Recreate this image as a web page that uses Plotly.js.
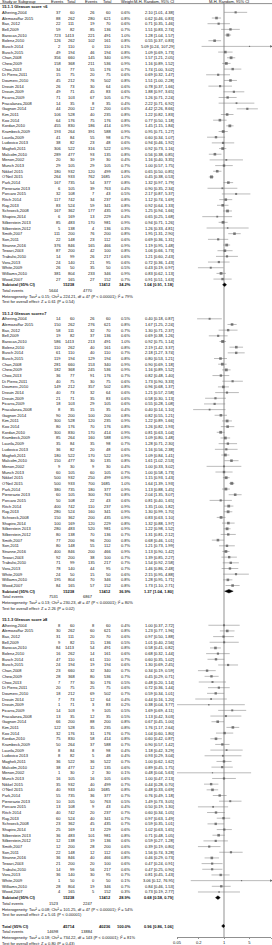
<!DOCTYPE html>
<html><head><meta charset="utf-8">
<script src="https://cdn.plot.ly/plotly-3.0.1.min.js"></script>
<style>html,body{margin:0;padding:0;background:#fff;overflow:hidden}#chart{width:272px;height:945px}</style>
</head><body><div id="chart"></div>
<script>
// ---------------- DATA ----------------
const studyNames = ["Alhering,2004","Alemozaffar 2015","Bax, 2012","Bell,2009","Barocas,2010","Bolenz,2010","Busch 2014","Busch,2015","Chan,2008","Chew,2009","Choo,2013","Di Pierro,2011","Doumerc,2010","Drouin 2014","Drouin,2009","Ficarra,2009","Fracalanza,2008","Gagnon 2014","Kim,2011","Koo 2014","Kordan,2010","Krambeck,2009","Laurila,2009","Ludovico 2013","Magheli,2011","Malcolm,2010","Menon,2002","Munch 2013","Nikkel 2015","O'Neil 2015","Park,2014","Pierorazio 2013","Porcaro 2015","Ritch 2014","Ray,2013","Schroeck,2008","Shapiro,2014","Silberstein 2013","Silberstein,2012","Smith,2007","Son,2011","Stranne,2016","Tewari,2003","Trabulsi,2010","Vora,2013","White,2009","Williams,2010","Wood,2007"];
const expTotal = [60,262,111,82,1413,262,110,194,660,368,77,75,212,73,71,103,35,200,528,176,830,264,84,82,522,477,30,105,932,933,735,105,108,742,524,362,169,483,138,200,148,846,200,99,140,50,804,165];
const ctlTotal = [60,621,70,136,491,161,110,194,340,536,176,75,502,64,83,105,35,200,235,176,414,588,98,48,522,135,30,105,499,1685,377,763,43,237,341,435,229,981,136,200,112,466,100,217,95,50,346,152];

const subgroupTitles = ["15.1.1 Gleason score <6","15.1.2 Gleason score=7","15.1.3 Gleason score \u22658"];

// Subgroup 1: Gleason <6
const g1ExpEv = [37,88,22,59,723,126,2,49,356,158,34,15,45,26,49,71,14,44,106,64,455,193,41,38,306,289,20,29,180,264,167,6,32,117,83,167,6,85,5,111,22,376,87,14,24,26,381,27];
const g1CtlEv = [26,280,19,85,221,102,0,46,145,211,55,20,76,30,45,67,8,12,40,75,186,391,55,23,316,93,19,29,120,762,54,39,7,34,59,177,13,170,4,76,23,165,42,26,21,35,233,27];
const g1Weight = [0.6,0.8,0.6,0.7,1.0,0.8,0.1,0.8,0.9,0.9,0.7,0.6,0.8,0.6,0.6,0.7,0.4,0.6,0.8,0.8,0.9,0.9,0.7,0.6,0.9,0.8,0.4,0.7,0.8,1.0,0.8,0.4,0.5,0.8,0.8,0.9,0.4,0.9,0.3,0.8,0.6,0.9,0.8,0.6,0.6,0.5,0.9,0.7];
const g1OR = [2.10,0.62,0.71,1.51,1.28,0.55,5.09,1.09,1.57,1.16,1.74,0.69,1.51,0.78,1.88,1.26,2.22,4.42,1.22,0.77,1.45,0.95,0.60,0.94,0.92,0.56,1.16,1.00,0.65,0.45,1.32,0.90,2.17,1.12,0.92,1.25,0.65,0.94,1.26,1.95,0.69,1.19,1.06,1.21,0.72,0.43,0.83,0.91];
const g1Lo = [1.01,0.46,0.35,0.83,1.04,0.37,0.24,0.69,1.21,0.89,1.00,0.32,1.00,0.37,0.97,0.71,0.71,2.26,0.82,0.50,1.15,0.71,0.34,0.46,0.73,0.38,0.40,0.57,0.50,0.38,0.97,0.35,0.87,0.74,0.64,0.94,0.25,0.71,0.33,1.31,0.36,0.95,0.66,0.60,0.36,0.19,0.62,0.51];
const g1Hi = [4.38,0.83,1.46,2.74,1.57,0.83,107.29,1.73,2.05,1.52,3.02,1.47,2.28,1.66,3.65,2.24,6.92,8.66,1.83,1.18,1.84,1.27,1.07,1.92,1.16,0.85,3.35,1.75,0.85,0.53,1.79,2.34,5.37,1.69,1.33,1.66,1.68,1.26,4.81,2.90,1.31,1.48,1.73,2.43,1.43,0.97,1.13,1.63];
const g1Summary = [1.04,0.91,1.18];
const g1SumWeight = 34.2;
const g1TotEvents = [5644,4770];
const g1Het = "Heterogeneity: Tau\u00b2 = 0.15; Chi\u00b2 = 224.21, df = 47 (P < 0.00001); I\u00b2 = 79%";
const g1Test = "Test for overall effect: Z = 0.61 (P = 0.54)";

// Subgroup 2: Gleason = 7
const g2ExpEv = [14,150,58,19,586,110,61,119,281,182,36,40,149,40,21,18,8,90,300,80,300,85,35,36,180,150,9,60,500,500,380,60,50,400,280,150,100,280,80,77,80,400,92,71,78,24,195,84];
const g2CtlEv = [26,276,32,37,213,40,40,129,153,245,91,30,357,32,35,29,15,100,120,70,170,160,35,20,170,30,9,60,250,700,180,300,22,110,160,200,120,520,70,96,55,200,38,135,44,15,70,57];
const g2Weight = [0.5,0.8,0.7,0.6,1.0,0.8,0.7,0.8,0.9,0.9,0.7,0.6,0.8,0.6,0.6,0.6,0.4,0.8,0.9,0.8,0.9,0.9,0.7,0.6,0.9,0.8,0.4,0.7,0.9,1.0,0.9,0.8,0.6,0.9,0.9,0.9,0.8,0.9,0.7,0.8,0.7,0.9,0.7,0.7,0.7,0.6,0.8,0.8];
const g2OR = [0.40,1.67,1.30,0.69,0.92,2.19,2.18,0.80,0.90,1.16,0.82,1.73,0.96,1.21,0.58,0.55,0.40,0.82,1.22,1.26,0.81,1.09,1.28,1.16,1.09,1.61,1.00,1.00,1.15,1.64,1.13,2.04,0.81,1.35,1.30,0.83,1.32,1.22,1.31,0.68,1.21,1.13,1.39,1.54,1.46,2.15,1.28,1.73];
const g2Lo = [0.18,1.25,0.71,0.38,0.75,1.42,1.27,0.53,0.69,0.89,0.48,0.90,0.68,0.57,0.30,0.28,0.14,0.55,0.89,0.82,0.63,0.80,0.71,0.56,0.84,1.02,0.33,0.58,0.93,1.39,0.88,1.35,0.40,1.00,0.99,0.63,0.88,0.98,0.81,0.46,0.73,0.90,0.85,0.92,0.86,0.95,0.95,1.10];
const g2Hi = [0.87,2.24,2.37,1.26,1.14,3.37,3.74,1.21,1.18,1.52,1.40,3.33,1.37,2.58,1.13,1.08,1.10,1.21,1.66,1.93,1.04,1.48,2.30,2.38,1.41,2.53,3.02,1.73,1.43,1.93,1.45,3.07,1.65,1.82,1.70,1.10,1.97,1.52,2.12,1.01,1.99,1.42,2.27,2.58,2.48,4.88,1.71,2.71];
const g2Summary = [1.37,1.04,1.80];
const g2SumWeight = 36.9;
const g2TotEvents = [7531,6867];
const g2Het = "Heterogeneity: Tau\u00b2 = 0.13; Chi\u00b2 = 230.23, df = 47 (P < 0.00001); I\u00b2 = 80%";
const g2Test = "Test for overall effect: Z = 2.26 (P = 0.02)";

// Subgroup 3: Gleason >= 8
const g3ExpEv = [8,30,31,9,84,16,47,24,23,28,7,20,18,7,1,14,13,66,122,32,75,50,8,8,36,38,1,16,35,40,55,10,13,40,60,23,25,36,12,12,22,36,21,14,36,1,28,4];
const g3CtlEv = [8,60,20,15,54,14,61,19,32,80,30,25,69,12,3,9,12,88,35,31,58,37,8,5,36,12,2,16,40,140,36,50,9,20,40,45,13,101,19,28,12,40,20,56,30,0,19,5];
const g3Weight = [0.4,0.8,0.6,0.5,0.8,0.6,0.7,0.6,0.7,0.7,0.5,0.6,0.7,0.4,0.2,0.5,0.5,0.8,0.8,0.7,0.8,0.7,0.4,0.4,0.7,0.6,0.1,0.6,0.7,0.8,0.7,0.5,0.4,0.7,0.7,0.7,0.6,0.8,0.6,0.6,0.6,0.8,0.6,0.6,0.7,0.1,0.7,0.3];
const g3OR = [1.00,1.23,0.97,1.01,0.58,0.68,0.60,1.30,0.34,0.45,0.48,0.72,0.59,0.44,0.38,1.69,1.13,0.67,1.76,1.04,0.60,0.90,1.18,0.93,1.00,0.89,0.48,1.00,0.44,0.48,0.76,1.49,0.50,0.60,0.97,0.59,1.02,0.71,0.59,0.39,1.56,0.46,0.47,0.47,0.81,3.06,0.84,0.73];
const g3Lo = [0.37,0.77,0.50,0.40,0.41,0.32,0.35,0.69,0.19,0.29,0.20,0.36,0.34,0.16,0.04,0.69,0.42,0.45,1.17,0.60,0.42,0.57,0.42,0.29,0.62,0.45,0.04,0.47,0.28,0.33,0.49,0.73,0.19,0.34,0.63,0.35,0.63,0.48,0.27,0.19,0.74,0.29,0.24,0.25,0.45,0.12,0.46,0.19];
const g3Hi = [2.72,1.96,1.88,2.56,0.82,1.44,1.02,2.45,0.59,0.71,1.14,1.44,1.01,1.20,3.77,4.11,3.03,1.00,2.64,1.80,0.87,1.42,3.29,3.04,1.62,1.75,5.63,2.13,0.70,0.69,1.18,3.05,1.30,1.05,1.49,1.01,1.65,1.05,1.28,0.80,3.28,0.73,0.91,0.90,1.43,76.95,1.53,2.77];
const g3Summary = [0.68,0.58,0.79];
const g3SumWeight = 28.9;
const g3TotEvents = [1523,2247];
const g3Het = "Heterogeneity: Tau\u00b2 = 0.08; Chi\u00b2 = 101.25, df = 47 (P < 0.00001); I\u00b2 = 54%";
const g3Test = "Test for overall effect: Z = 5.01 (P < 0.00001)";

// Overall
const overallSummary = [0.96,0.86,1.06];
const overallTotals = [45714,40236];
const overallTotEvents = [14698,13884];
const overallHet = "Heterogeneity: Tau\u00b2 = 0.18; Chi\u00b2 = 734.22, df = 143 (P < 0.00001); I\u00b2 = 81%";
const overallTest = "Test for overall effect: Z = 0.80 (P = 0.43)";
const subTotals = [15238,13412];

const headerCols = ["Study or Subgroup","Events","Total","Events","Total","Weight","M-H, Random, 95% CI","M-H, Random, 95% CI"];
const tickVals = [0.05,0.2,1,5,20];
const tickLabels = ["0.05","0.2","1","5","20"];

// ---------------- LAYOUT HELPERS ----------------
const W = 272, H = 945;
const ROW_H = 5.675, ROW0_PX = 1;
const COL = {name:1.2, expEv:61.5, expTot:75.5, ctlEv:96, ctlTot:112.2, weight:132, ci:174.5};
const FS = 4;
const FONT = '"Liberation Sans", Arial, sans-serif';
const AX_PX = 937;
const X_MIN = 0.05, X_MAX = 20;

const groups = [
  {title:subgroupTitles[0], start:1,  ee:g1ExpEv, ce:g1CtlEv, w:g1Weight, or:g1OR, lo:g1Lo, hi:g1Hi, sum:g1Summary, sw:g1SumWeight, te:g1TotEvents, het:g1Het, test:g1Test},
  {title:subgroupTitles[1], start:55, ee:g2ExpEv, ce:g2CtlEv, w:g2Weight, or:g2OR, lo:g2Lo, hi:g2Hi, sum:g2Summary, sw:g2SumWeight, te:g2TotEvents, het:g2Het, test:g2Test},
  {title:subgroupTitles[2], start:109,ee:g3ExpEv, ce:g3CtlEv, w:g3Weight, or:g3OR, lo:g3Lo, hi:g3Hi, sum:g3Summary, sw:g3SumWeight, te:g3TotEvents, het:g3Het, test:g3Test}
];
const totalRow = 163;

const fmt = v => v.toFixed(2);
const ciText = (o,l,h) => fmt(o)+" ["+fmt(l)+", "+fmt(h)+"]";

const anns = [];
function T(text, xPx, row, anchor, bold){
  anns.push({text: bold ? '<b>'+text+'</b>' : text, xref:'paper', x:xPx/W, yref:'y', y:row,
    xanchor:anchor, yanchor:'middle', showarrow:false, borderpad:0,
    font:{size:FS, family:FONT, color:'#111'}});
}

const hr = 0.08;
T(headerCols[0], COL.name, hr, 'left');
T(headerCols[1], 56.5, hr, 'center');
T(headerCols[2], 71.5, hr, 'center');
T(headerCols[3], 91, hr, 'center');
T(headerCols[4], 107.5, hr, 'center');
T(headerCols[5], 127, hr, 'center');
T(headerCols[6], 133, hr, 'left');
T(headerCols[7], 229, hr, 'center');

const ciX=[], ciY=[], sqX=[], sqY=[], sqS=[], arX=[], arY=[];
const diamonds = [];

groups.forEach(g => {
  T(g.title, COL.name, g.start, 'left', true);
  studyNames.forEach((nm,i) => {
    const r = g.start + 1 + i;
    T(nm, COL.name, r, 'left');
    T(String(g.ee[i]), COL.expEv, r, 'right');
    T(String(expTotal[i]), COL.expTot, r, 'right');
    T(String(g.ce[i]), COL.ctlEv, r, 'right');
    T(String(ctlTotal[i]), COL.ctlTot, r, 'right');
    T(g.w[i].toFixed(1)+'%', COL.weight, r, 'right');
    T(ciText(g.or[i], g.lo[i], g.hi[i]), COL.ci, r, 'right');
    ciX.push(g.lo[i], g.hi[i], null); ciY.push(r, r, null);
    sqX.push(g.or[i]); sqY.push(r); sqS.push(1.0 + 2.0*g.w[i]);
    if (g.hi[i] > X_MAX){ arX.push(X_MAX); arY.push(r); }
  });
  const sr = g.start + 49;
  T('Subtotal (95% CI)', COL.name, sr, 'left', true);
  T(String(subTotals[0]), COL.expTot, sr, 'right', true);
  T(String(subTotals[1]), COL.ctlTot, sr, 'right', true);
  T(g.sw.toFixed(1)+'%', COL.weight, sr, 'right', true);
  T(ciText(g.sum[0], g.sum[1], g.sum[2]), COL.ci, sr, 'right', true);
  diamonds.push({row:sr, v:g.sum});
  T('Total events', COL.name, sr+1, 'left');
  T(String(g.te[0]), COL.expEv-2, sr+1, 'right');
  T(String(g.te[1]), COL.ctlEv-2, sr+1, 'right');
  T(g.het, COL.name, sr+2, 'left');
  T(g.test, COL.name, sr+3, 'left');
});

T('Total (95% CI)', COL.name, totalRow, 'left', true);
T(String(overallTotals[0]), COL.expTot, totalRow, 'right', true);
T(String(overallTotals[1]), COL.ctlTot, totalRow, 'right', true);
T('100.0%', COL.weight, totalRow, 'right', true);
T(ciText(overallSummary[0], overallSummary[1], overallSummary[2]), COL.ci, totalRow, 'right', true);
diamonds.push({row:totalRow, v:overallSummary});
T('Total events', COL.name, totalRow+1, 'left');
T(String(overallTotEvents[0]), COL.expEv-2, totalRow+1, 'right');
T(String(overallTotEvents[1]), COL.ctlEv-2, totalRow+1, 'right');
T(overallHet, COL.name, totalRow+2, 'left');
T(overallTest, COL.name, totalRow+3, 'left');

// ---------------- TRACES ----------------
const yTop = -ROW0_PX/ROW_H, yBot = (H - ROW0_PX)/ROW_H;
const axRow = (AX_PX - ROW0_PX)/ROW_H;

const traces = [];
traces.push({x:[1,1], y:[0.45, axRow], mode:'lines', line:{color:'#222', width:0.5}, hoverinfo:'skip'});
traces.push({x:ciX, y:ciY, mode:'lines', line:{color:'#777', width:0.5}, connectgaps:false, hoverinfo:'skip'});
traces.push({x:sqX, y:sqY, mode:'markers', marker:{symbol:'square', size:sqS, color:'#4d4d4d', line:{width:0}}, hoverinfo:'skip'});
traces.push({x:arX, y:arY, mode:'markers', marker:{symbol:'triangle-right', size:2.5, color:'#444'}, hoverinfo:'skip', cliponaxis:false});
diamonds.forEach(d => {
  const [o,l,h] = d.v;
  traces.push({x:[l,o,h,o,l], y:[d.row, d.row-0.32, d.row, d.row+0.32, d.row], mode:'lines', fill:'toself',
    fillcolor:'#000', line:{color:'#000', width:0.4}, hoverinfo:'skip'});
});

const layout = {
  width:W, height:H, margin:{l:0,r:0,t:0,b:0}, paper_bgcolor:'#fff', plot_bgcolor:'rgba(0,0,0,0)',
  showlegend:false,
  font:{family:FONT, size:FS, color:'#000'},
  xaxis:{type:'log', domain:[177/W, 271/W], range:[Math.log10(X_MIN), Math.log10(X_MAX)],
    anchor:'free', position:(H-AX_PX)/H, showline:true, linecolor:'#222', linewidth:0.5,
    showgrid:false, zeroline:false, tickmode:'array', tickvals:tickVals, ticktext:tickLabels,
    ticks:'outside', ticklen:1.5, tickwidth:0.5, tickcolor:'#222', tickfont:{size:FS, family:FONT, color:'#111'}},
  yaxis:{range:[yBot, yTop], domain:[0,1], visible:false, showgrid:false, zeroline:false},
  annotations: anns,
  shapes:[{type:'line', xref:'paper', yref:'paper', x0:0, x1:1, y0:1-3.6/H, y1:1-3.6/H, line:{color:'#222', width:0.5}}]
};

Plotly.newPlot('chart', traces, layout, {staticPlot:true, displayModeBar:false});
</script>
</body></html>
